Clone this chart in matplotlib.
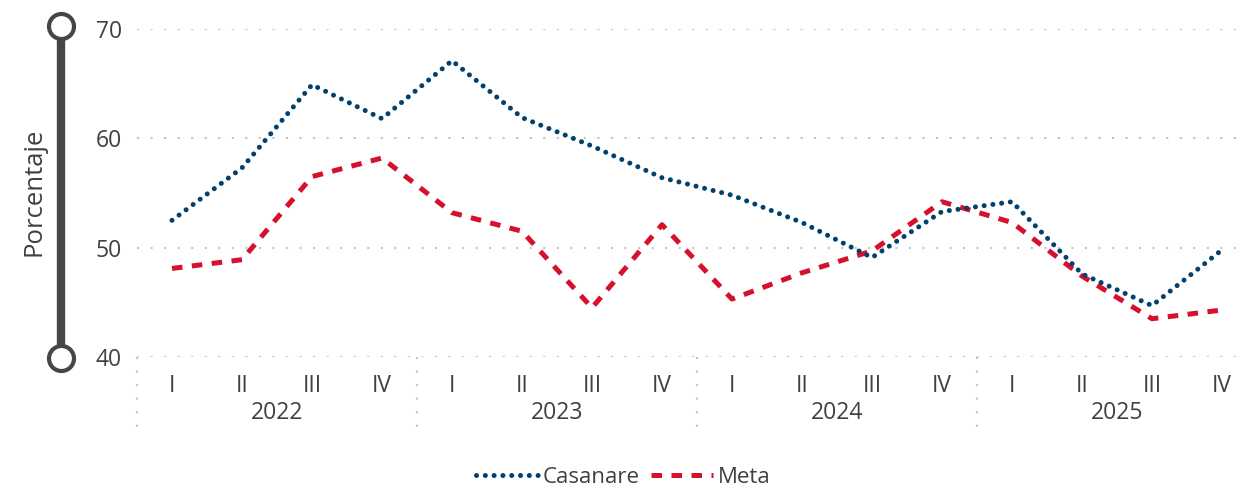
import matplotlib
matplotlib.use("Agg")
import matplotlib.pyplot as plt
from matplotlib.lines import Line2D
import matplotlib.transforms as mtransforms

plt.rcParams['font.family'] = ['Open Sans', 'DejaVu Sans']

quarters = ["I", "II", "III", "IV"] * 4
years = ["2022", "2023", "2024", "2025"]
casanare = [52.5, 57.3, 64.9, 61.8, 67.1, 61.9, 59.3, 56.4,
            54.8, 52.3, 49.1, 53.3, 54.2, 47.6, 44.7, 49.8]
meta = [48.1, 48.9, 56.5, 58.2, 53.2, 51.5, 44.5, 52.1,
        45.3, 47.7, 49.7, 54.2, 52.3, 47.4, 43.5, 44.3]
yticks = [40, 50, 60, 70]

W, H = 1247, 490
fig = plt.figure(figsize=(W / 100, H / 100), dpi=100)
ax_left, ax_right, ax_top, ax_bottom = 137, 1257, 29, 357
ax = fig.add_axes([ax_left / W, 1 - ax_bottom / H, (ax_right - ax_left) / W, (ax_bottom - ax_top) / H])

text_color = "#404040"
blue = "#00416f"
red = "#d6102d"
grid_color = "#c4c4c4"
fs = 16.5

x = list(range(len(quarters)))
ax.plot(x, casanare, color=blue, lw=3.6, linestyle=(0, (0.01, 1.75)),
        dash_capstyle='round', solid_capstyle='round', label="Casanare", zorder=3)
ax.plot(x, meta, color=red, lw=3.6, linestyle=(0, (2.1, 1.9)),
        dash_capstyle='butt', label="Meta", zorder=2)

ax.set_xlim(-0.5, len(quarters) - 0.5)
ax.set_ylim(40, 70)
ax.set_yticks(yticks)
ax.set_yticklabels([str(v) for v in yticks])
ax.set_xticks(x)
ax.set_xticklabels(quarters)
ax.tick_params(axis='both', length=0, labelsize=fs, colors=text_color)
ax.tick_params(axis='x', pad=12)
ax.tick_params(axis='y', pad=11)

for v in yticks:
    ax.axhline(v, color=grid_color, lw=1.5, linestyle=(0, (1, 5.5)), zorder=1)

for s in ax.spines.values():
    s.set_visible(False)

# year labels and separators
trans = mtransforms.blended_transform_factory(ax.transData, ax.transAxes)
hpx = ax_bottom - ax_top
for i, yr in enumerate(years):
    ax.text(i * 4 + 1.5, -(413 - ax_bottom) / hpx, yr, transform=trans,
            ha='center', va='center', fontsize=fs, color=text_color)
for i in range(len(years) + 1):
    ax.add_line(Line2D([i * 4 - 0.5] * 2, [0, -(435 - ax_bottom) / hpx], transform=trans,
                       color=grid_color, lw=1.5, linestyle=(0, (1, 5.5)), clip_on=False))

# left decoration
xb = 61 / W
fig.add_artist(Line2D([xb, xb], [1 - 26 / H, 1 - 358 / H], color="#474645", lw=6,
                      transform=fig.transFigure, solid_capstyle='butt', zorder=1))
for yc in (26, 358):
    fig.add_artist(Line2D([xb], [1 - yc / H], marker='o', markersize=18,
                          markerfacecolor='white', markeredgecolor="#474645",
                          markeredgewidth=3, transform=fig.transFigure, zorder=2))
fig.text(34 / W, 1 - 192 / H, "Porcentaje", rotation=90, ha='center', va='center',
         fontsize=18.5, color=text_color)

fig.legend(loc='center', bbox_to_anchor=(0.5, 1 - 477 / H), ncol=2, frameon=False,
           fontsize=16, handlelength=2.8, handletextpad=0.2, columnspacing=0.5,
           labelcolor=text_color)

fig.savefig("out.png", dpi=100)
